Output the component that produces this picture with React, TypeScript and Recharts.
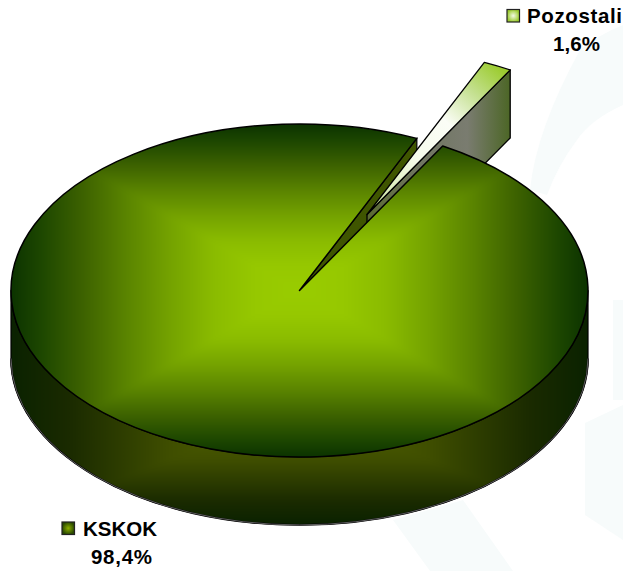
import { PieChart, Pie } from 'recharts';

// values
const categories = ['KSKOK', 'Pozostali'];
const shares = [98.4, 1.6];
const shareLabels = ['98,4%', '1,6%'];

const data = categories.map((name, i) => ({ name, value: shares[i], text: shareLabels[i] }));

const FONT = '"Liberation Sans", Arial, sans-serif';
const SQUASH = 166.5 / 288.5; // tilt of the pie
const DEPTH = 68;
const EXPLODE = { x: 67.5, y: -76 };

const topStops = [
  [0, '#99cc00'],
  [0.15, '#96c800'],
  [0.3, '#8abb00'],
  [0.45, '#74a200'],
  [0.6, '#5a8400'],
  [0.75, '#3d6200'],
  [0.9, '#1c4600'],
  [1, '#0c3300'],
];
const wallStops = [
  [0, '#566800'],
  [0.45, '#3f4e00'],
  [0.8, '#1a2a00'],
  [1, '#0a2200'],
];

// faint shapes of the page background
const watermarks = [
  'M530 190Q536 130 580 50Q600 34 623 25V105Q590 120 577 140Q558 165 547 195Z',
  'M585 423L623 405V540L585 515Z',
  'M613 300H623V400H613Z',
  'M393 520L463 500L513 571H430Z',
];

function ellipsePoint(p: any, deg: number) {
  const a = (deg * Math.PI) / 180;
  return {
    x: p.cx + p.outerRadius * Math.cos(a),
    y: p.cy - p.outerRadius * SQUASH * Math.sin(a),
  };
}

function arcTo(p: any, to: { x: number; y: number }, large: number, sweep: number) {
  return `A${p.outerRadius} ${p.outerRadius * SQUASH} 0 ${large} ${sweep} ${to.x} ${to.y}`;
}

// rectangle-path gradient like the one office charts use: four triangles clipped to a shape
function PathGradient({ id, d, box, center, stops, strokeWidth = 1.2 }: any) {
  const { x0, y0, x1, y1 } = box;
  const c = center;
  const tris = [
    { pts: `${x0},${y0} ${x1},${y0} ${c.x},${c.y}`, to: [c.x, y0] },
    { pts: `${x1},${y0} ${x1},${y1} ${c.x},${c.y}`, to: [x1, c.y] },
    { pts: `${x1},${y1} ${x0},${y1} ${c.x},${c.y}`, to: [c.x, y1] },
    { pts: `${x0},${y1} ${x0},${y0} ${c.x},${c.y}`, to: [x0, c.y] },
  ];
  return (
    <g>
      <defs>
        <clipPath id={`${id}-clip`}>
          <path d={d} />
        </clipPath>
        <filter id={`${id}-soft`} x="-5%" y="-5%" width="110%" height="110%" colorInterpolationFilters="sRGB">
          <feGaussianBlur stdDeviation={3} />
        </filter>
        {tris.map((t, i) => (
          <linearGradient
            key={i}
            id={`${id}-${i}`}
            gradientUnits="userSpaceOnUse"
            x1={c.x}
            y1={c.y}
            x2={t.to[0]}
            y2={t.to[1]}
          >
            {stops.map((s: any) => (
              <stop key={s[0]} offset={s[0]} stopColor={s[1]} />
            ))}
          </linearGradient>
        ))}
      </defs>
      <g clipPath={`url(#${id}-clip)`}>
        <path d={d} fill={stops[stops.length - 1][1]} />
        <g filter={`url(#${id}-soft)`}>
          {tris.map((t, i) => (
            <polygon key={i} points={t.pts} fill={`url(#${id}-${i})`} shapeRendering="crispEdges" />
          ))}
        </g>
      </g>
      <path d={d} fill="none" stroke="#000" strokeWidth={strokeWidth} strokeLinejoin="round" />
    </g>
  );
}

// first pass: everything that lies behind the top face of the big slice
function BackShape(props: any) {
  const { cx, cy, startAngle, endAngle, outerRadius, payload } = props;
  const p = { cx, cy, outerRadius };
  if (payload.name === categories[0]) {
    const right = ellipsePoint(p, 0);
    const left = ellipsePoint(p, 180);
    const lowRight = { x: right.x, y: right.y + DEPTH };
    const lowLeft = { x: left.x, y: left.y + DEPTH };
    const rim =
      `M${right.x} ${right.y}` +
      arcTo(p, left, 0, 1) +
      `L${lowLeft.x} ${lowLeft.y}` +
      arcTo(p, lowRight, 0, 0) +
      'Z';
    const lowEdge = `M${lowRight.x} ${lowRight.y}` + arcTo(p, lowLeft, 0, 1);
    const cut = ellipsePoint(p, endAngle);
    return (
      <g>
        <PathGradient
          id="rim"
          d={rim}
          box={{ x0: left.x, y0: cy, x1: right.x, y1: cy + outerRadius * SQUASH + DEPTH }}
          center={{ x: cx, y: cy + 117 }}
          stops={wallStops}
        />
        <path d={lowEdge} fill="none" stroke="#000" strokeWidth={1.8} />
        <path d={lowEdge} fill="none" stroke="#a0a0a0" strokeWidth={0.6} />
        <polygon
          points={`${cx},${cy} ${cut.x},${cut.y} ${cut.x},${cut.y + DEPTH} ${cx},${cy + DEPTH}`}
          fill="#3f5500"
          stroke="#000"
          strokeWidth={1.2}
        />
      </g>
    );
  }
  const shift = (q: { x: number; y: number }) => ({ x: q.x + EXPLODE.x, y: q.y + EXPLODE.y });
  const apex = { x: cx + EXPLODE.x, y: cy + EXPLODE.y };
  const a = shift(ellipsePoint(p, startAngle));
  const b = shift(ellipsePoint(p, endAngle));
  const nearSide = a.x > b.x ? a : b;
  const farSide = a.x > b.x ? b : a;
  return (
    <g>
      <defs>
        <linearGradient id="sliceWall" gradientUnits="userSpaceOnUse" x1={apex.x} y1={0} x2={nearSide.x} y2={0}>
          <stop offset={0} stopColor="#5a6a30" />
          <stop offset={0.35} stopColor="#6f7560" />
          <stop offset={0.7} stopColor="#7a7c70" />
          <stop offset={1} stopColor="#4c6626" />
        </linearGradient>
        <linearGradient id="sliceTop" gradientUnits="userSpaceOnUse" x1={497} y1={66} x2={apex.x} y2={apex.y}>
          <stop offset={0} stopColor="#9ccc30" />
          <stop offset={0.18} stopColor="#c4e090" />
          <stop offset={0.38} stopColor="#fbfdf6" />
          <stop offset={0.62} stopColor="#f6fbec" />
          <stop offset={0.88} stopColor="#d8ecb0" />
          <stop offset={1} stopColor="#a4cc50" />
        </linearGradient>
      </defs>
      <polygon
        points={`${apex.x},${apex.y} ${nearSide.x},${nearSide.y} ${nearSide.x},${nearSide.y + DEPTH} ${apex.x},${apex.y + DEPTH}`}
        fill="url(#sliceWall)"
        stroke="#000"
        strokeWidth={1.3}
        strokeLinejoin="round"
      />
      <path
        d={`M${apex.x} ${apex.y}L${farSide.x} ${farSide.y}` + arcTo(p, nearSide, 0, 1) + 'Z'}
        fill="url(#sliceTop)"
        stroke="#000"
        strokeWidth={1.3}
        strokeLinejoin="round"
      />
    </g>
  );
}

// second pass: the top face of the big slice
function TopShape(props: any) {
  const { cx, cy, startAngle, endAngle, outerRadius, payload } = props;
  if (payload.name !== categories[0]) return <g />;
  const p = { cx, cy, outerRadius };
  const a = ellipsePoint(p, startAngle);
  const b = ellipsePoint(p, endAngle);
  const ry = outerRadius * SQUASH;
  return (
    <PathGradient
      id="top"
      d={`M${cx} ${cy}L${a.x} ${a.y}` + arcTo(p, b, 1, 1) + 'Z'}
      box={{ x0: cx - outerRadius, y0: cy - ry, x1: cx + outerRadius, y1: cy + ry }}
      center={{ x: cx, y: cy }}
      stops={topStops}
      strokeWidth={1.5}
    />
  );
}

const legendSpots: any = {
  KSKOK: { x: 62, y: 522, textX: 83, base: 536, nameW: 74, valueX: 91, valueW: 61, inner: '#8db000', outer: '#2a4a00' },
  Pozostali: { x: 507, y: 9.5, textX: 527, base: 23, nameW: 95, valueX: 553, valueW: 47, inner: '#f4f9e6', outer: '#9ccc30' },
};

function LegendLabel(props: any) {
  const { name, text } = props.payload ?? props;
  const s = legendSpots[name];
  if (!s) return null;
  const id = `swatch-${name}`;
  return (
    <g fontFamily={FONT} fontWeight="bold" fontSize={20.5} fill="#000">
      <defs>
        <radialGradient id={id}>
          <stop offset={0} stopColor={s.inner} />
          <stop offset={1} stopColor={s.outer} />
        </radialGradient>
      </defs>
      <rect x={s.x} y={s.y} width={12.5} height={12.5} fill={`url(#${id})`} stroke="#222" strokeWidth={1.2} />
      <text x={s.textX} y={s.base} textLength={s.nameW}>{name}</text>
      <text x={s.valueX} y={s.base + 28} textLength={s.valueW}>{text}</text>
    </g>
  );
}

export default function App() {
  return (
    <div style={{ position: 'absolute', left: 0, top: 0, width: 623, height: 571, background: '#fff' }}>
      <svg width={623} height={571} style={{ position: 'absolute', left: 0, top: 0 }}>
        {watermarks.map((d) => (
          <path key={d} d={d} fill="#f7fbfb" />
        ))}
      </svg>
      <PieChart
        width={623}
        height={571}
        margin={{ top: 0, right: 0, bottom: 0, left: 0 }}
        style={{ position: 'absolute', left: 0, top: 0 }}
      >
        <Pie
          data={data}
          dataKey="value"
          nameKey="name"
          cx={299.5}
          cy={290.5}
          innerRadius={0}
          outerRadius={288.5}
          startAngle={60.24}
          endAngle={-299.76}
          shape={BackShape}
          stroke="none"
          rootTabIndex={-1}
          isAnimationActive={false}
        />
        <Pie
          data={data}
          dataKey="value"
          nameKey="name"
          cx={299.5}
          cy={290.5}
          innerRadius={0}
          outerRadius={288.5}
          startAngle={60.24}
          endAngle={-299.76}
          shape={TopShape}
          stroke="none"
          rootTabIndex={-1}
          label={LegendLabel}
          labelLine={false}
          isAnimationActive={false}
        />
      </PieChart>
    </div>
  );
}
